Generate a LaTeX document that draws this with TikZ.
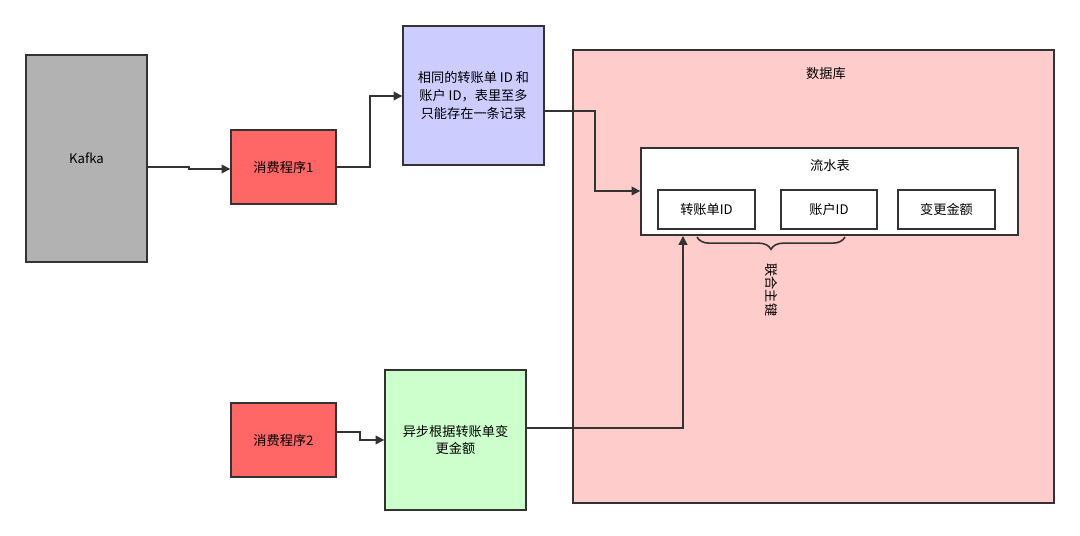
\documentclass[tikz,border=0pt]{standalone}
\usepackage{fontspec}
\setmainfont{Noto Sans CJK SC}
\usetikzlibrary{arrows.meta,decorations.pathreplacing}
\definecolor{ln}{HTML}{333333}
\tikzset{
 bx/.style={draw=ln,line width=0.8pt,font=\fontsize{7.5}{10}\selectfont,align=center,inner sep=0},
 conn/.style={draw=ln,line width=0.9pt,-{Triangle[length=5pt,width=5pt]}},
}
\begin{document}
\begin{tikzpicture}[x=0.02cm,y=-0.02cm]
\useasboundingbox (0,0) rectangle (1080,536);
\fill[white] (0,0) rectangle (1080,536);
\node[bx,fill=black!30,minimum width=121*0.02cm,minimum height=207*0.02cm] (kafka) at (86.5,158.5) {Kafka};
\node[bx,fill=red!60,minimum width=105*0.02cm,minimum height=74*0.02cm] (c1) at (283.5,167) {消费程序1};
\node[bx,fill=blue!20,minimum width=141*0.02cm,minimum height=139*0.02cm] (rule) at (473.5,95.5) {相同的转账单 ID 和\\账户 ID，表里至多\\只能存在一条记录};
\node[bx,fill=red!20,minimum width=481*0.02cm,minimum height=453*0.02cm] (db) at (813.5,276.5) {};
\node[font=\fontsize{7.5}{10}\selectfont] (dbl) at (826,74) {数据库};
\node[bx,fill=white,minimum width=377*0.02cm,minimum height=87*0.02cm] (tbl) at (829.5,191.5) {};
\node[font=\fontsize{7.5}{10}\selectfont] (tbll) at (830,166) {流水表};
\node[bx,fill=white,minimum width=97*0.02cm,minimum height=39*0.02cm] (f1) at (706.5,209.5) {转账单ID};
\node[bx,fill=white,minimum width=96*0.02cm,minimum height=39*0.02cm] (f2) at (829,209.5) {账户ID};
\node[bx,fill=white,minimum width=97*0.02cm,minimum height=39*0.02cm] (f3) at (946.5,209.5) {变更金额};
\draw[ln,line width=0.9pt,decorate,decoration={brace,amplitude=7pt}] (845,237) -- (697,237);
\node[font=\fontsize{7.5}{10}\selectfont,rotate=-90] (pk) at (771,290) {联合主键};
\node[bx,fill=red!60,minimum width=105*0.02cm,minimum height=74*0.02cm] (c2) at (283.5,440) {消费程序2};
\node[bx,fill=green!20,minimum width=141*0.02cm,minimum height=140*0.02cm] (async) at (455.5,440) {异步根据转账单变\\更金额};
\coordinate (t1) at (683,236);
\draw[conn] (kafka.east|-0,167) -- (189,167) -- (189,169) -- (c1.west|-0,169);
\draw[conn] (c1.east) -- (370,167) -- (370,96) -- (rule.west|-0,96);
\draw[conn] (rule.east|-0,111) -- (595,111) -- (595,191) -- (tbl.west|-0,191);
\draw[conn] (c2.east|-0,432) -- (360,432) -- (360,440) -- (async.west);
\draw[conn] (async.east|-0,428) -- (683,428) -- (t1);
\end{tikzpicture}
\end{document}
